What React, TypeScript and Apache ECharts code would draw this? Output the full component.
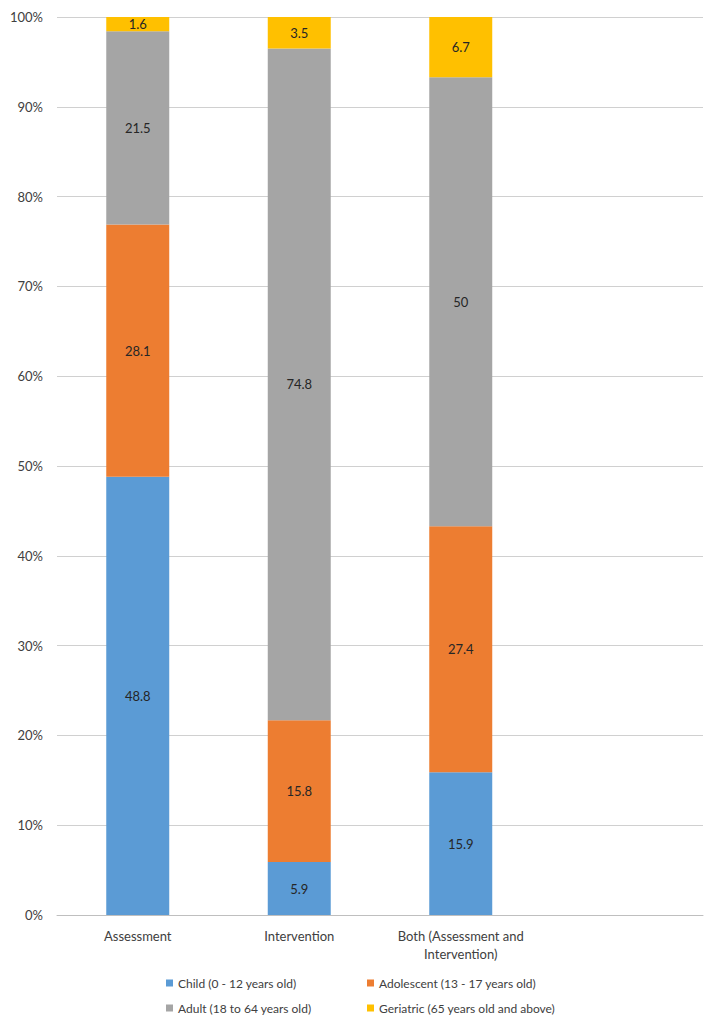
import React, { useEffect, useRef } from "react";
import * as echarts from "echarts";

const categories = ["Assessment", "Intervention", "Both (Assessment and\nIntervention)", ""];
const seriesNames = [
  "Child (0 - 12 years old)",
  "Adolescent (13 - 17 years old)",
  "Adult (18 to 64 years old)",
  "Geriatric (65 years old and above)",
];
const child = [48.8, 5.9, 15.9, null];
const adolescent = [28.1, 15.8, 27.4, null];
const adult = [21.5, 74.8, 50, null];
const geriatric = [1.6, 3.5, 6.7, null];
const colors = ["#5B9BD5", "#ED7D31", "#A5A5A5", "#FFC000"];
const yTicks = [0, 10, 20, 30, 40, 50, 60, 70, 80, 90, 100];

const FONT = "Lato, 'Open Sans', sans-serif";

export default function App() {
  const ref = useRef<HTMLDivElement>(null);
  useEffect(() => {
    if (!ref.current) return;
    const chart = echarts.init(ref.current, undefined, { renderer: "svg" });
    const values = [child, adolescent, adult, geriatric];
    const legendPos = [
      { left: 166, top: 977 },
      { left: 367, top: 977 },
      { left: 166, top: 1002 },
      { left: 367, top: 1002 },
    ];
    chart.setOption({
      animation: false,
      backgroundColor: "#ffffff",
      grid: { left: 57, right: 12, top: 17, bottom: 115, containLabel: false },
      legend: seriesNames.map((n, i) => ({
        data: [n],
        left: legendPos[i].left,
        top: legendPos[i].top,
        padding: 0,
        icon: "rect",
        itemWidth: 7,
        itemHeight: 7,
        selectedMode: false,
        textStyle: { fontFamily: FONT, fontSize: 12, color: "#404040" },
      })),
      xAxis: {
        type: "category",
        data: categories,
        axisTick: { show: false },
        axisLine: { lineStyle: { color: "#BFBFBF", width: 1 } },
        axisLabel: {
          interval: 0,
          fontFamily: FONT,
          fontSize: 13,
          color: "#404040",
          margin: 12,
          lineHeight: 18,
        },
      },
      yAxis: {
        type: "value",
        min: 0,
        max: 100,
        interval: 10,
        axisLine: { show: false },
        axisTick: { show: false },
        splitLine: { lineStyle: { color: "#D0D0D0", width: 1 } },
        axisLabel: {
          fontFamily: FONT,
          fontSize: 13,
          color: "#404040",
          margin: 14,
          formatter: (v: number) => (yTicks.includes(v) ? v + "%" : ""),
        },
      },
      series: seriesNames.map((n, i) => ({
        name: n,
        type: "bar",
        stack: "total",
        barWidth: "39%",
        data: values[i],
        itemStyle: { color: colors[i] },
        label: {
          show: true,
          position: "inside",
          fontFamily: FONT,
          fontSize: 13,
          color: "#262626",
          formatter: (p: any) => (p.value == null ? "" : String(p.value)),
        },
      })),
    });
    return () => chart.dispose();
  }, []);
  return <div ref={ref} style={{ width: 715, height: 1030, position: "absolute", left: 0, top: 0 }} />;
}
